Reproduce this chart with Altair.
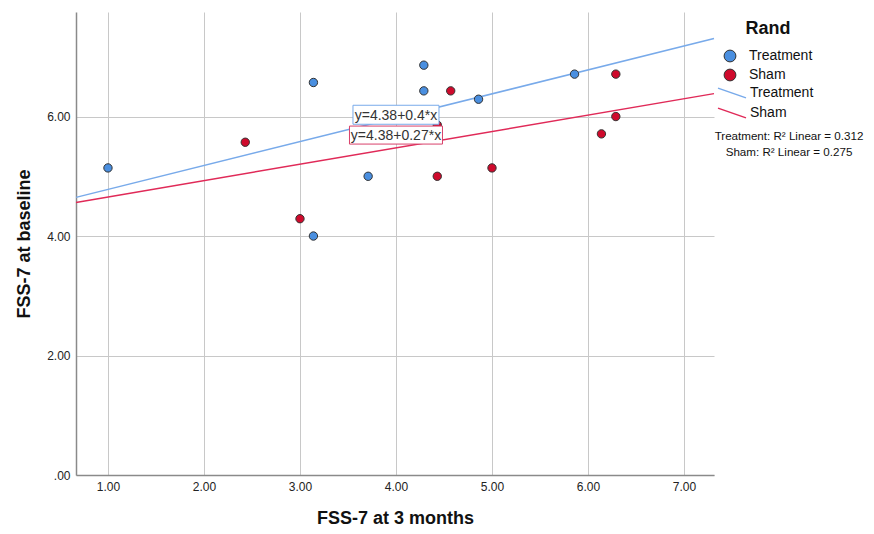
import altair as alt
import pandas as pd

FONT = "Liberation Sans"

groups = ["Treatment", "Sham"]
treat_x = [1.00, 3.14, 3.14, 3.71, 4.29, 4.29, 4.86, 5.86]
treat_y = [5.14, 6.57, 4.00, 5.00, 6.86, 6.43, 6.29, 6.71]
sham_x = [2.43, 3.00, 4.43, 4.43, 4.57, 5.00, 6.14, 6.29, 6.29]
sham_y = [5.57, 4.29, 5.00, 5.86, 6.43, 5.14, 5.71, 6.71, 6.00]

intercepts = [4.38, 4.38]
slopes = [0.40, 0.274]
eq_labels = ["y=4.38+0.4*x", "y=4.38+0.27*x"]
r2_values = ["0.312", "0.275"]

x_ticks = [1, 2, 3, 4, 5, 6, 7]
y_ticks = [0, 2, 4, 6]
x_min, x_max = 0.667, 7.3125
y_min, y_max = 0.0, 7.75

point_fill = ["#4a8fe0", "#cf0a2c"]
line_colors = ["#78aaea", "#e02a58"]
box_colors = ["#78aaea", "#d8406a"]

pts = pd.DataFrame({
    "x": treat_x + sham_x,
    "y": treat_y + sham_y,
    "Rand": ["Treatment"] * len(treat_x) + ["Sham"] * len(sham_x),
})

line_rows = []
for g, b, m in zip(groups, intercepts, slopes):
    for xv in (x_min, x_max):
        line_rows.append({"x": xv, "y": b + m * xv, "Fit": g})
lines = pd.DataFrame(line_rows)

X = alt.X("x:Q",
          scale=alt.Scale(domain=[x_min, x_max], nice=False, zero=False),
          axis=alt.Axis(values=x_ticks, format=".2f", title="FSS-7 at 3 months",
                        titleX=319, titleY=48, titleBaseline="alphabetic"))
Y = alt.Y("y:Q",
          scale=alt.Scale(domain=[y_min, y_max], nice=False, zero=False),
          axis=alt.Axis(values=y_ticks,
                        labelExpr="datum.value == 0 ? '.00' : format(datum.value, '.2f')",
                        title="FSS-7 at baseline",
                        titleX=-47, titleY=231.5, titleBaseline="alphabetic"))

line_layer = alt.Chart(lines).mark_line(strokeWidth=1.5).encode(
    x=X, y=Y,
    stroke=alt.Stroke("Fit:N", sort=groups, scale=alt.Scale(range=line_colors),
                      legend=alt.Legend(title=None, orient="none", legendX=648, legendY=73,
                                        symbolType="M-2,-0.7L2,0.7", symbolSize=196,
                                        symbolStrokeWidth=1.5, labelFontSize=14,
                                        labelFont=FONT, labelColor="#111",
                                        labelOffset=10, rowPadding=4, padding=0)),
)

point_layer = alt.Chart(pts).mark_circle(size=70, stroke="#333333", strokeWidth=1, opacity=1).encode(
    x=X, y=Y,
    fill=alt.Fill("Rand:N", scale=alt.Scale(domain=groups, range=point_fill),
                  legend=alt.Legend(title="Rand", orient="none", legendX=647, legendY=8,
                                    titleFontSize=18, titleFont=FONT, titleFontWeight="bold",
                                    titleColor="#111", titleAnchor="middle", titlePadding=11,
                                    symbolType="circle", symbolSize=140,
                                    symbolStrokeColor="#333333", symbolStrokeWidth=1,
                                    symbolOpacity=1, labelFontSize=14, labelFont=FONT,
                                    labelColor="#111", labelOffset=12, rowPadding=3, padding=0)),
)

label_x = [4.0, 4.0]
label_y = [6.03, 5.69]
box_w = [86, 93]
box_h = [19, 18]

box_layers = []
for i in range(len(groups)):
    d = pd.DataFrame({"x": [label_x[i]], "y": [label_y[i]], "t": [eq_labels[i]]})
    hh = round(box_h[i] / box_w[i], 4)
    path = f"M-1,-{hh}L1,-{hh}L1,{hh}L-1,{hh}Z"
    box = alt.Chart(d).mark_point(filled=False, fill="white", fillOpacity=1,
                                  stroke=box_colors[i], strokeWidth=1, opacity=1,
                                  shape=path, size=box_w[i] ** 2).encode(x=X, y=Y)
    txt = alt.Chart(d).mark_text(font=FONT, fontSize=14, color="#333333",
                                 align="center", baseline="middle", dy=1).encode(
        x=X, y=Y, text="t:N")
    box_layers += [box, txt]

r2_text = "\n".join(f"{g}: R\u00b2 Linear = {v}" for g, v in zip(groups, r2_values))
r2_layer = alt.Chart(pd.DataFrame({"t": [r2_text]})).mark_text(
    font=FONT, fontSize=11.6, color="#111", align="center", baseline="top",
    lineBreak="\n", lineHeight=16).encode(
    x=alt.value(713), y=alt.value(119), text="t:N")

chart = alt.layer(line_layer, point_layer, *box_layers, r2_layer).properties(
    width=638, height=463,
    autosize=alt.AutoSizeParams(type="none"),
    padding={"left": 68, "top": 4, "right": 152, "bottom": 51},
    background="white",
).configure_view(stroke=None).configure_axis(
    grid=True, gridColor="#c8c8c8", gridWidth=1,
    domainColor="#8a8a8a", domainWidth=1.5,
    ticks=False, tickSize=0,
    labelFont=FONT, labelFontSize=12, labelColor="#222222", labelPadding=6,
    titleFont=FONT, titleFontSize=18, titleFontWeight="bold", titleColor="#111111",
)

chart.save("out.html", embed_options={"renderer": "svg", "actions": False})
